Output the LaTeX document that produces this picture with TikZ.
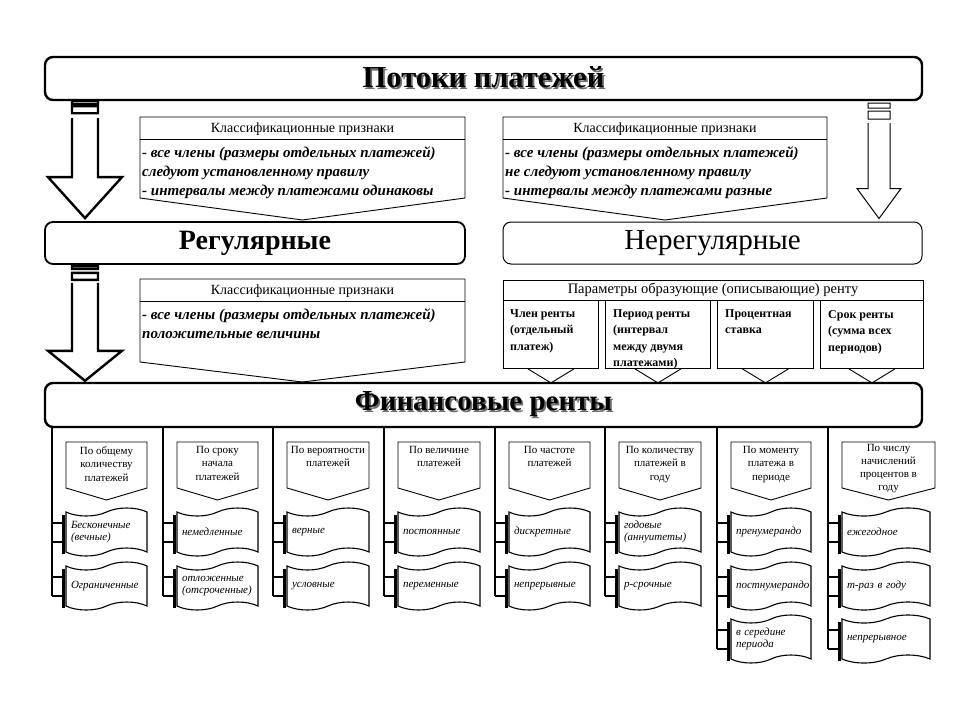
\documentclass[tikz,border=0pt]{standalone}
\usepackage{fontspec}
\setmainfont{Liberation Serif}
\usetikzlibrary{shapes.symbols,calc}
\definecolor{shadowgray}{RGB}{110,110,110}
\newcommand\shadowtxt[1]{\makebox[0pt][l]{\kern1.8pt\raisebox{-1.8pt}{\textcolor{shadowgray}{#1}}}#1}
\newcommand\docitem[7]{% #1 name, #2 column coord, #3 cx, #4 cy, #5 width, #6 text width, #7 text
  \node[doc, minimum width=#5pt, text width=#6pt] (#1) at (#3,#4) {#7};
  \draw[line width=3.6pt] ($(#1.west)+(-1.8,-17)$) -- ($(#1.west)+(-1.8,22)$);
  \path (#1.west) ++(0,-9) coordinate (#1a) ++(0,19) coordinate (#1b);
  \draw[conn] (#2 |- #1a) -- (#1a);
  \draw[conn] (#2 |- #1b) -- (#1b);
}
\begin{document}
\begin{tikzpicture}[x=1pt,y=-1pt,
  bigbox/.style={draw, rounded corners=8pt, inner sep=0pt, minimum height=43pt},
  thinbox/.style={draw, line width=0.9pt},
  colline/.style={line width=1.6pt},
  conn/.style={line width=1.2pt},
  fatarrow/.style={draw, line width=2.4pt, fill=white},
  thinarrow/.style={draw, line width=1pt, fill=white},
  doc/.style={tape, draw, line width=1.1pt, tape bend height=8pt, minimum height=48pt, inner xsep=5pt, inner ysep=0pt, align=left, font=\fontsize{11}{12.5}\selectfont\itshape},
  hdr/.style={align=center, inner sep=0pt, anchor=north, font=\fontsize{11}{13.5}\selectfont, execute at begin node={\strut}},
  ctitle/.style={inner sep=0pt, font=\fontsize{14}{15}\selectfont},
  cbody/.style={inner sep=0pt, anchor=north west, align=left, font=\fontsize{15}{19}\selectfont\bfseries\itshape},
  pbody/.style={inner sep=0pt, anchor=north west, align=left, font=\fontsize{12}{16.5}\selectfont\bfseries},
  chev/.style={line width=0.9pt}
]
\useasboundingbox[fill=white] (0,0) rectangle (960,720);

% ---------- main boxes ----------
\node[bigbox, line width=2.4pt, minimum width=877pt, font=\fontsize{30.5}{31}\selectfont\bfseries] (top) at (483.5,78.5) {\shadowtxt{Потоки платежей}};
\node[bigbox, line width=1.8pt, minimum width=420pt, minimum height=42pt, font=\fontsize{28}{29}\selectfont\bfseries] (reg) at (255,243) {Регулярные};
\node[bigbox, line width=1pt, minimum width=419pt, minimum height=42pt, font=\fontsize{29}{30}\selectfont] (irr) at (712.5,243) {Нерегулярные};
\node[bigbox, line width=2.4pt, minimum width=877pt, minimum height=44pt, font=\fontsize{29}{30}\selectfont\bfseries] (fin) at (483.5,405) {\shadowtxt{Финансовые ренты}};

% ---------- hollow arrows ----------
\draw[fatarrow] let \p1=(top.south), \p2=(reg.north) in
  (72pt,\y1) rectangle (98pt,\y1-3pt)
  (72pt,\y1-5pt) rectangle (98pt,\y1-12pt)
  (72pt,\y1-17pt) -- (72pt,\y2+44pt) -- (48pt,\y2+44pt) -- (85pt,\y2+3pt) -- (122pt,\y2+44pt) -- (98pt,\y2+44pt) -- (98pt,\y1-17pt);
\draw[fatarrow] let \p1=(reg.south), \p2=(fin.north) in
  (72pt,\y1-1pt) rectangle (98pt,\y1-4pt)
  (72pt,\y1-8pt) rectangle (98pt,\y1-15pt)
  (72pt,\y1-18pt) -- (72pt,\y2+31pt) -- (48pt,\y2+31pt) -- (85pt,\y2+1pt) -- (122pt,\y2+31pt) -- (98pt,\y2+31pt) -- (98pt,\y1-18pt);
\draw[thinarrow] let \p1=(top.south), \p2=(irr.north) in
  (868pt,\y1-2pt) rectangle (890pt,\y1-7pt)
  (868pt,\y1-10pt) rectangle (890pt,\y1-18pt)
  (868pt,\y1-22pt) -- (868pt,\y2+33pt) -- (857pt,\y2+33pt) -- (879pt,\y2+3pt) -- (901pt,\y2+33pt) -- (890pt,\y2+33pt) -- (890pt,\y1-22pt);

% ---------- classification boxes ----------
\draw[thinbox] (140,117) -- (465,117) -- (465,198) -- (302.5,220) -- (140,198) -- cycle;
\draw[thinbox] (140,139) -- (465,139);
\node[ctitle] (c1t) at (302.5,129) {Классификационные признаки};
\node[cbody] (c1b) at (142,146) {- все члены (размеры отдельных платежей)\\следуют установленному правилу\\- интервалы между платежами одинаковы};

\draw[thinbox] (503,117) -- (827,117) -- (827,198) -- (665,220) -- (503,198) -- cycle;
\draw[thinbox] (503,139) -- (827,139);
\node[ctitle] (c2t) at (665,129) {Классификационные признаки};
\node[cbody] (c2b) at (505,146) {- все члены (размеры отдельных платежей)\\не следуют установленному правилу\\- интервалы между платежами разные};

\draw[thinbox] (140,279) -- (465,279) -- (465,362) -- (302.5,382) -- (140,362) -- cycle;
\draw[thinbox] (140,301) -- (465,301);
\node[ctitle] (c3t) at (302.5,291) {Классификационные признаки};
\node[cbody] (c3b) at (142,308) {- все члены (размеры отдельных платежей)\\положительные величины};

% ---------- parameters ----------
\node[thinbox, minimum width=420pt, minimum height=20pt, inner sep=0pt, font=\fontsize{14.5}{15}\selectfont] (pt) at (713,290) {Параметры образующие (описывающие) ренту};
\node[thinbox, minimum width=95pt, minimum height=68pt, anchor=north west, inner sep=0pt] (p1) at (503,300) {};
\node[thinbox, minimum width=105pt, minimum height=68pt, anchor=north west, inner sep=0pt] (p2) at (605,300) {};
\node[thinbox, minimum width=96pt, minimum height=68pt, anchor=north west, inner sep=0pt] (p3) at (717,300) {};
\node[thinbox, minimum width=103pt, minimum height=68pt, anchor=north west, inner sep=0pt] (p4) at (820,300) {};
\node[pbody] (p1t) at ($(p1.north west)+(7,9)$) {Член ренты\\(отдельный\\платеж)};
\node[pbody] (p2t) at ($(p2.north west)+(8,9)$) {Период ренты\\(интервал\\между двумя\\платежами)};
\node[pbody] (p3t) at ($(p3.north west)+(8,9)$) {Процентная\\ставка};
\node[pbody] (p4t) at ($(p4.north west)+(8,10)$) {Срок ренты\\(сумма всех\\периодов)};
\foreach \p in {p1,p2,p3,p4}{
  \draw[chev] ($(\p.south)+(-23,0)$) -- ($(\p.south)+(0,14)$) -- ($(\p.south)+(23,0)$);
}

% ---------- columns ----------
\foreach \L/\w [count=\i] in {52/81,163/81,273/82,384/82,495/81,605/82,717/80,828/93}{
  \coordinate (v\i) at (fin.south -| {\L,0});
  \draw[thinbox] (\L+14,442) -- (\L+14+\w,442) -- (\L+14+\w,488) -- (\L+14+\w/2,500) -- (\L+14,488) -- cycle;
}
\node[hdr] (h1) at (106.5,446) {По общему\\количеству\\платежей};
\node[hdr] (h2) at (217.5,446) {По сроку\\начала\\платежей};
\node[hdr] (h3) at (328,446) {По вероятности\\платежей};
\node[hdr] (h4) at (439,446) {По величине\\платежей};
\node[hdr] (h5) at (549.5,446) {По частоте\\платежей};
\node[hdr] (h6) at (660,446) {По количеству\\платежей в\\году};
\node[hdr] (h7) at (771,446) {По моменту\\платежа в\\периоде};
\node[hdr, font=\fontsize{11}{13}\selectfont] (h8) at (888.5,444) {По числу\\начислений\\процентов в\\году};

\docitem{d11}{v1}{106.5}{532}{81}{71}{Бесконечные\\(вечные)}
\docitem{d12}{v1}{106.5}{586}{81}{71}{Ограниченные}
\docitem{d21}{v2}{217.5}{532}{81}{71}{немедленные}
\docitem{d22}{v2}{217.5}{586}{81}{71}{отложенные\\(отсроченные)}
\docitem{d31}{v3}{328}{532}{82}{72}{верные}
\docitem{d32}{v3}{328}{586}{82}{72}{условные}
\docitem{d41}{v4}{439}{532}{82}{72}{постоянные}
\docitem{d42}{v4}{439}{586}{82}{72}{переменные}
\docitem{d51}{v5}{549.5}{532}{81}{71}{дискретные}
\docitem{d52}{v5}{549.5}{586}{81}{71}{непрерывные}
\docitem{d61}{v6}{660}{532}{82}{72}{годовые\\(аннуитеты)}
\docitem{d62}{v6}{660}{586}{82}{72}{p-срочные}
\docitem{d71}{v7}{771}{532}{80}{70}{пренумерандо}
\docitem{d72}{v7}{771}{586}{80}{70}{постнумерандо}
\docitem{d73}{v7}{771}{639}{80}{70}{в середине\\периода}
\docitem{d81}{v8}{886}{532}{88}{78}{ежегодное}
\docitem{d82}{v8}{886}{586}{88}{78}{m-раз в году}
\docitem{d83}{v8}{886}{639}{88}{78}{непрерывное}

\draw[colline] (v1) -- (v1 |- d12b);
\draw[colline] (v2) -- (v2 |- d22b);
\draw[colline] (v3) -- (v3 |- d32b);
\draw[colline] (v4) -- (v4 |- d42b);
\draw[colline] (v5) -- (v5 |- d52b);
\draw[colline] (v6) -- (v6 |- d62b);
\draw[colline] (v7) -- (v7 |- d73b);
\draw[colline] (v8) -- (v8 |- d83b);
\end{tikzpicture}
\end{document}
